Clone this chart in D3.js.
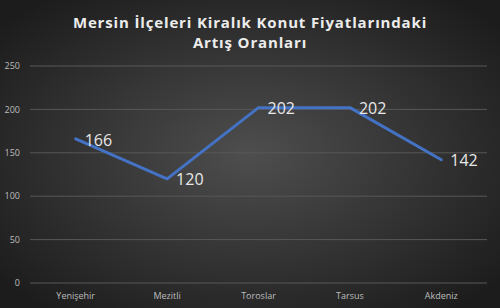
<!DOCTYPE html>
<html>
<head>
<meta charset="utf-8">
<script src="https://cdn.jsdelivr.net/npm/d3@7"></script>
<style>
    html, body { margin: 0; padding: 0; background: #2a2a2a; }
    svg { display: block; }
</style>
</head>
<body>
<div id="chart"></div>
<script>
const titleLines = ['Mersin İlçeleri Kiralık Konut Fiyatlarındaki', 'Artış Oranları'];
const districts = ['Yenişehir', 'Mezitli', 'Toroslar', 'Tarsus', 'Akdeniz'];
const increases = [166, 120, 202, 202, 142];
const yTicks = [0, 50, 100, 150, 200, 250];

const width = 500;
const height = 308;
const margin = { top: 66, right: 13, bottom: 25, left: 30 };

const svg = d3.select('#chart')
    .append('svg')
    .attr('width', width)
    .attr('height', height);

// background: dark radial gradient, lighter in the middle
const defs = svg.append('defs');
const grad = defs.append('radialGradient')
    .attr('id', 'bg')
    .attr('cx', '50%').attr('cy', '50%').attr('r', '65%');
grad.append('stop').attr('offset', '0%').attr('stop-color', '#4e4e4e');
grad.append('stop').attr('offset', '100%').attr('stop-color', '#1c1c1c');

svg.append('rect')
    .attr('width', width)
    .attr('height', height)
    .attr('fill', 'url(#bg)');

const x = d3.scaleBand()
    .domain(districts)
    .range([margin.left, width - margin.right]);

const y = d3.scaleLinear()
    .domain([0, 250])
    .range([height - margin.bottom, margin.top]);

// gridlines
svg.append('g')
    .selectAll('line')
    .data(yTicks)
    .join('line')
    .attr('x1', margin.left)
    .attr('x2', width - margin.right)
    .attr('y1', d => y(d))
    .attr('y2', d => y(d))
    .attr('stroke', '#585858')
    .attr('stroke-width', 1);

// y tick labels
svg.append('g')
    .selectAll('text')
    .data(yTicks)
    .join('text')
    .attr('x', 20)
    .attr('y', d => y(d))
    .attr('dy', '0.35em')
    .attr('text-anchor', 'end')
    .attr('font-family', 'Open Sans, sans-serif')
    .attr('font-size', '9px')
    .attr('fill', '#bdbdbd')
    .text(d => d);

// category labels
svg.append('g')
    .selectAll('text')
    .data(districts)
    .join('text')
    .attr('x', d => x(d) + x.bandwidth() / 2)
    .attr('y', height - margin.bottom + 16)
    .attr('text-anchor', 'middle')
    .attr('font-family', 'Open Sans, sans-serif')
    .attr('font-size', '9px')
    .attr('fill', '#bdbdbd')
    .text(d => d);

const points = districts.map((d, i) => ({ name: d, value: increases[i] }));

const line = d3.line()
    .x(d => x(d.name) + x.bandwidth() / 2)
    .y(d => y(d.value));

svg.append('path')
    .datum(points)
    .attr('d', line)
    .attr('fill', 'none')
    .attr('stroke', '#4472c4')
    .attr('stroke-width', 3)
    .attr('stroke-linejoin', 'round')
    .attr('stroke-linecap', 'round');

// data labels to the right of each point
svg.append('g')
    .selectAll('text')
    .data(points)
    .join('text')
    .attr('x', d => x(d.name) + x.bandwidth() / 2 + 9)
    .attr('y', d => y(d.value) + 1)
    .attr('dy', '0.35em')
    .attr('font-family', 'Open Sans, sans-serif')
    .attr('font-size', '16px')
    .attr('fill', '#e8e8e8')
    .text(d => d.value);

// title
svg.append('g')
    .selectAll('text')
    .data(titleLines)
    .join('text')
    .attr('x', width / 2)
    .attr('y', (d, i) => 28 + i * 20)
    .attr('text-anchor', 'middle')
    .attr('font-family', 'Open Sans, sans-serif')
    .attr('font-weight', 'bold')
    .attr('font-size', '15px')
    .attr('letter-spacing', '0.85px')
    .attr('fill', '#ececec')
    .text(d => d);
</script>
</body>
</html>
